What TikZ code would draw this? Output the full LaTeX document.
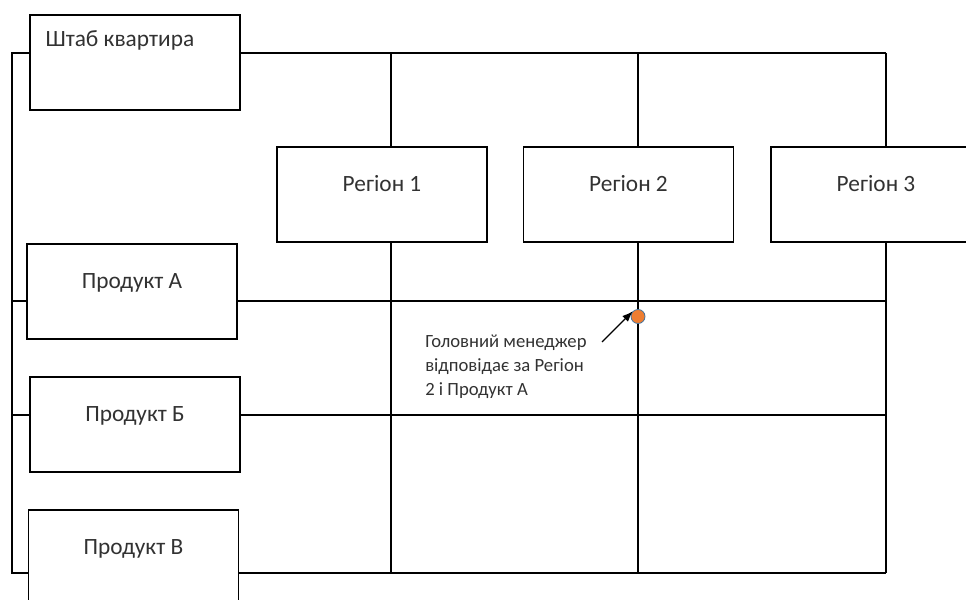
\documentclass[tikz,border=0pt]{standalone}
\usepackage{fontspec}
\setmainfont{Carlito}
\usetikzlibrary{calc, arrows.meta}

\definecolor{dotfill}{RGB}{237,125,49}
\definecolor{dotline}{RGB}{65,113,156}
\definecolor{txtgray}{RGB}{50,50,50}

\begin{document}
\begin{tikzpicture}[x=0.75pt,y=0.75pt,yscale=-1,xscale=1,
	unitbox/.style={draw, line width=1.1pt, minimum width=157.5pt, minimum height=71.25pt, inner sep=0pt},
	boxtext/.style={anchor=base, inner sep=0pt, text=txtgray, font=\fontsize{17.5}{20}\selectfont},
	gridline/.style={line width=1.1pt}]
					%set diagram size 966 x 599 and clip the boxes that run off the edge
					\path [use as bounding box, clip] (0,0) rectangle (966,599);
					
					%Shape: Rectangle [headquarters]
					\node [unitbox] (hq) at (135,62.5) {};
					\node [anchor=base west, inner sep=0pt, text=txtgray, font=\fontsize{17.5}{20}\selectfont] (hq-txt) at ([xshift=12pt,yshift=24pt]hq.north west) {Штаб квартира};
					
					%Shape: Rectangle [regions]
					\node [unitbox] (r1) at (382,194.5) {};
					\node [unitbox] (r2) at (628.5,194.5) {};
					\node [unitbox] (r3) at (876,194.5) {};
					\node [boxtext] (r1-txt) at ([yshift=-2.2pt]r1.center) {Регіон 1};
					\node [boxtext] (r2-txt) at ([yshift=-2.2pt]r2.center) {Регіон 2};
					\node [boxtext] (r3-txt) at ([yshift=-2.2pt]r3.center) {Регіон 3};
					
					%Shape: Rectangle [products]
					\node [unitbox] (pa) at (132,291.5) {};
					\node [unitbox] (pb) at (135,424.5) {};
					\node [unitbox] (pv) at (133.5,557.5) {};
					\node [boxtext] (pa-txt) at ([yshift=-2.6pt]pa.center) {Продукт А};
					\node [boxtext] (pb-txt) at ([yshift=-2.3pt]pb.center) {Продукт Б};
					\node [boxtext] (pv-txt) at ([yshift=-2.6pt]pv.center) {Продукт В};
					
					%Grid points
					\coordinate (c1) at (391,53);
					\coordinate (c2) at (638,53);
					\coordinate (c3) at (886,53);
					\coordinate (s0) at (12,53);
					\coordinate (sa) at (12,301);
					\coordinate (sb) at (12,415);
					\coordinate (sv) at (12,573);
					
					%Straight Lines [spine and rows]
					\draw [gridline] (hq.west |- s0) -- (s0) -- (sv) -- (pv.west |- sv) ;
					\draw [gridline] (sa) -- (pa.west |- sa) ;
					\draw [gridline] (sb) -- (pb.west |- sb) ;
					\draw [gridline] (hq.east |- c1) -- (c3) ;
					\draw [gridline] (pa.east |- sa) -- (c3 |- sa) ;
					\draw [gridline] (pb.east |- sb) -- (c3 |- sb) ;
					\draw [gridline] (pv.east |- sv) -- (c3 |- sv) ;
					
					%Straight Lines [columns]
					\draw [gridline] (c1) -- (c1 |- r1.north) (c1 |- r1.south) -- (c1 |- sv) ;
					\draw [gridline] (c2) -- (c2 |- r2.north) (c2 |- r2.south) -- (c2 |- sv) ;
					\draw [gridline] (c3) -- (c3 |- r3.north) (c3 |- r3.south) -- (c3 |- sv) ;
					
					%Shape: Circle [manager]
					\node [circle, draw=dotline, fill=dotfill, line width=0.6pt, minimum size=10.5pt, inner sep=0pt] (mgr) at (638,316.5) {};
					
					% Text Node
					\node [anchor=north west, inner sep=0pt, align=left, text=txtgray, font=\fontsize{14}{18}\selectfont] (note) at (425,335) {Головний менеджер\\відповідає за Регіон\\2 і Продукт А};
					\coordinate (note-tail) at (602,342);
					\draw [line width=0.9pt, -{Latex[length=8pt,width=6pt]}] (note-tail) -- (mgr.north west) ;
				\end{tikzpicture}
\end{document}
